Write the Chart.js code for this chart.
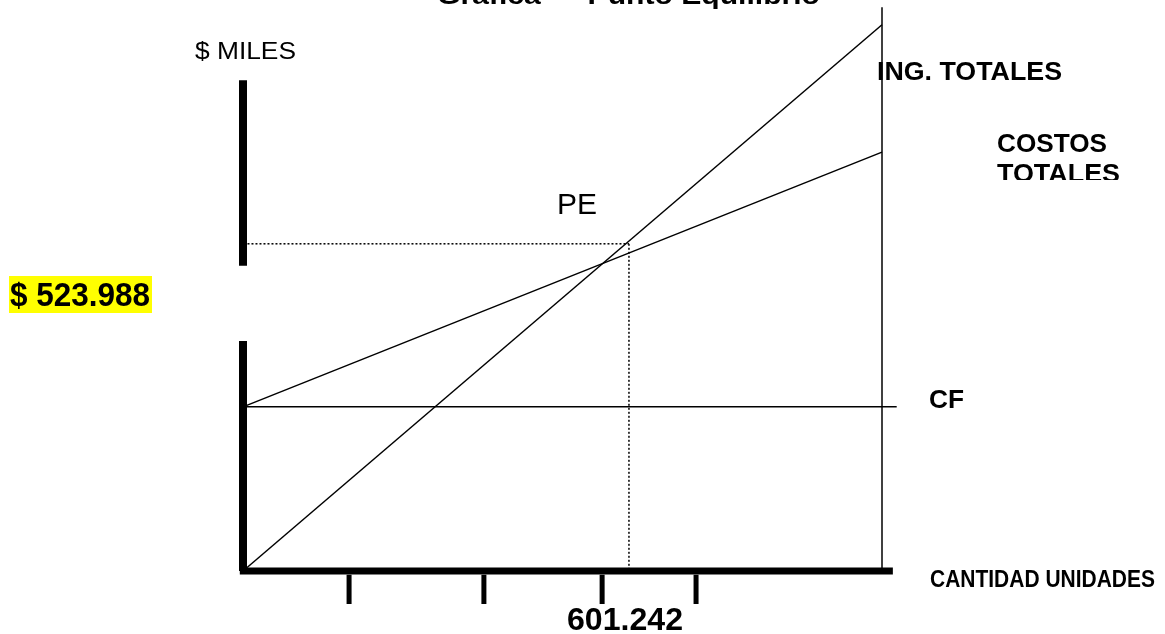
<!DOCTYPE html>
<html>
<head>
<meta charset="utf-8">
<script src="https://cdn.jsdelivr.net/npm/chart.js@4"></script>
<style>
  body { margin: 0; background: #fff; }
  canvas { display: block; }
</style>
</head>
<body>
<canvas id="pe" width="1165" height="634"></canvas>
<script>
// valores del grafico (unidades relativas del eje)
var xEnds = [0, 100];
var ingresosTotales = [0, 99.5];
var costosTotales = [29.9, 76.3];
var costoFijoX = [0, 102.3];
var costoFijo = [29.9, 29.9];
var peX = 60.4;
var peY = 59.6;
var tickX = [16.6, 37.7, 56.2, 70.9];
var ejeYTramos = [[0, 41.9], [55.6, 89.4]];
var ejeXFin = 101.7;
var limiteDerecho = 102.7;

var labelX = '601.242';
var labelY = '$ 523.988';

function line(xs, ys, width, dash) {
    return {
        data: xs.map(function (x, i) { return { x: x, y: ys[i] }; }),
        showLine: true,
        borderColor: '#000',
        borderWidth: width,
        borderDash: dash || [],
        borderCapStyle: 'butt',
        pointRadius: 0,
        clip: false
    };
}

var datasets = [];
ejeYTramos.forEach(function (t) {
    datasets.push(line([0, 0], t, 8));
});
datasets.push(line([-0.5, ejeXFin], [0, 0], 7));
tickX.forEach(function (x) {
    datasets.push(line([x, x], [-0.7, -6], 5));
});
datasets.push(line([100, 100], [0, limiteDerecho], 1.5));
datasets.push(line(xEnds, ingresosTotales, 1.5));
datasets.push(line(xEnds, costosTotales, 1.5));
datasets.push(line(costoFijoX, costoFijo, 1.5));
datasets.push(line([0.7, peX], [peY, peY], 1.5, [2, 2]));
datasets.push(line([peX, peX], [peY, 0], 1.5, [2, 2]));

function fitText(ctx, text, font, x, y, width) {
    ctx.save();
    ctx.font = font;
    var w = ctx.measureText(text).width;
    ctx.translate(x, y);
    ctx.scale(width / w, 1);
    ctx.fillText(text, 0, 0);
    ctx.restore();
}

var textos = {
    id: 'textos',
    afterDraw: function (chart) {
        var ctx = chart.ctx;
        ctx.save();
        ctx.fillStyle = '#000';
        ctx.textBaseline = 'alphabetic';
        var F = '"Liberation Sans", Arial, sans-serif';

        fitText(ctx, 'Gráfica — Punto Equilibrio', 'bold 26px ' + F, 437, 4, 383);
        fitText(ctx, '$ MILES', '23px ' + F, 195, 59, 101);
        fitText(ctx, 'ING. TOTALES', 'bold 26px ' + F, 877, 80, 185);
        fitText(ctx, 'COSTOS', 'bold 26px ' + F, 997, 152, 110);
        ctx.save();
        ctx.beginPath();
        ctx.rect(990, 155, 140, 25);
        ctx.clip();
        fitText(ctx, 'TOTALES', 'bold 26px ' + F, 997, 182, 123);
        ctx.restore();
        fitText(ctx, 'PE', '29px ' + F, 557, 214, 40);
        fitText(ctx, 'CF', 'bold 26px ' + F, 929, 408, 35);

        ctx.fillStyle = '#ffff00';
        ctx.fillRect(9, 276, 143, 37);
        ctx.fillStyle = '#000';
        fitText(ctx, labelY, 'bold 33px ' + F, 10, 306, 140);

        fitText(ctx, labelX, 'bold 31px ' + F, 567, 630, 116);
        fitText(ctx, 'CANTIDAD UNIDADES', 'bold 23px ' + F, 930, 587, 225);
        ctx.restore();
    }
};

new Chart(document.getElementById('pe'), {
    type: 'scatter',
    data: { datasets: datasets },
    options: {
        responsive: false,
        animation: false,
        layout: { padding: { left: 243, right: 283, top: 22, bottom: 63 } },
        plugins: { legend: { display: false }, tooltip: { enabled: false } },
        scales: {
            x: { type: 'linear', min: 0, max: 100, display: false },
            y: { type: 'linear', min: 0, max: 100, display: false }
        }
    },
    plugins: [textos]
});
</script>
</body>
</html>
